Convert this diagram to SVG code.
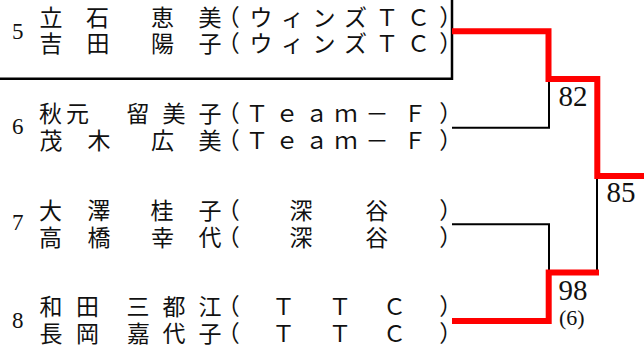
<svg xmlns="http://www.w3.org/2000/svg" width="644" height="349" viewBox="0 0 644 349">
<style>
.jp{font-family:"Noto Sans CJK JP","Liberation Serif",sans-serif;font-size:23px;fill:#111;text-anchor:middle}
.num{font-family:"Liberation Serif",serif;font-size:23px;fill:#111}
.score{font-family:"Liberation Serif",serif;font-size:29px;fill:#111}
.sub{font-family:"Liberation Serif",serif;font-size:22px;fill:#111}
.blk{fill:none;stroke:#000;stroke-width:2}
.red{fill:none;stroke:#ff0000;stroke-width:6;stroke-linejoin:miter}
</style>
<rect width="644" height="349" fill="#fff"/>
<g id="entry5">
<path d="M0,78.7 H452 V0" fill="none" stroke="#000" stroke-width="2.5"/>
<text class="num" x="12" y="38.7">5</text>
<text class="jp" x="51 97.5 162.5 210 228.2 261 292.5 324 355.5 387 418.5 450.8" y="25.5">立石恵美（ウィンズＴＣ）</text>
<text class="jp" x="51 98 162.5 210 228.2 261 292.5 324 355.5 387 418.5 450.8" y="51.5">吉田陽子（ウィンズＴＣ）</text>
</g>
<g id="entry6">
<text class="num" x="12" y="133.5">6</text>
<text class="jp" x="50.5 77.5 138 174 210 228.2 257 287 316.5 346 377 415 450.8" y="122">秋元留美子（Ｔｅａｍ－Ｆ）</text>
<text class="jp" x="51 99 162.5 210 228.2 257 287 316.5 346 377 415 450.8" y="149">茂木広美（Ｔｅａｍ－Ｆ）</text>
</g>
<g id="entry7">
<text class="num" x="12" y="230">7</text>
<text class="jp" x="50.5 98.7 162 210 228.2 301 376.7 450.8" y="218.5">大澤桂子（深谷）</text>
<text class="jp" x="50.5 99 162.5 210 228.2 301 376.7 450.8" y="245.5">高橋幸代（深谷）</text>
</g>
<g id="entry8">
<text class="num" x="12" y="328">8</text>
<text class="jp" x="51 87.5 138 174 210 228.2 283.5 340 394.5 450.8" y="315">和田三都江（ＴＴＣ）</text>
<text class="jp" x="51 87.5 138.5 174 210 228.2 283.5 340 394.5 450.8" y="342">長岡嘉代子（ＴＴＣ）</text>
</g>
<g id="connectors">
<path class="blk" d="M452,127.7 H549 V82"/>
<path class="blk" d="M452,224.3 H549 V270"/>
<path class="blk" d="M597,179 V270"/>
<path class="red" d="M452,31.3 H548.5 V79 H597.3 V176 H644"/>
<path class="red" d="M452,321 H548.7 V272.5 H599"/>
</g>
<g id="scores">
<text class="score" x="558.5" y="105.7">82</text>
<text class="score" x="606.5" y="202.3">85</text>
<text class="score" x="558.5" y="300">98</text>
<text class="sub" x="559" y="325">(6)</text>
</g>
</svg>
